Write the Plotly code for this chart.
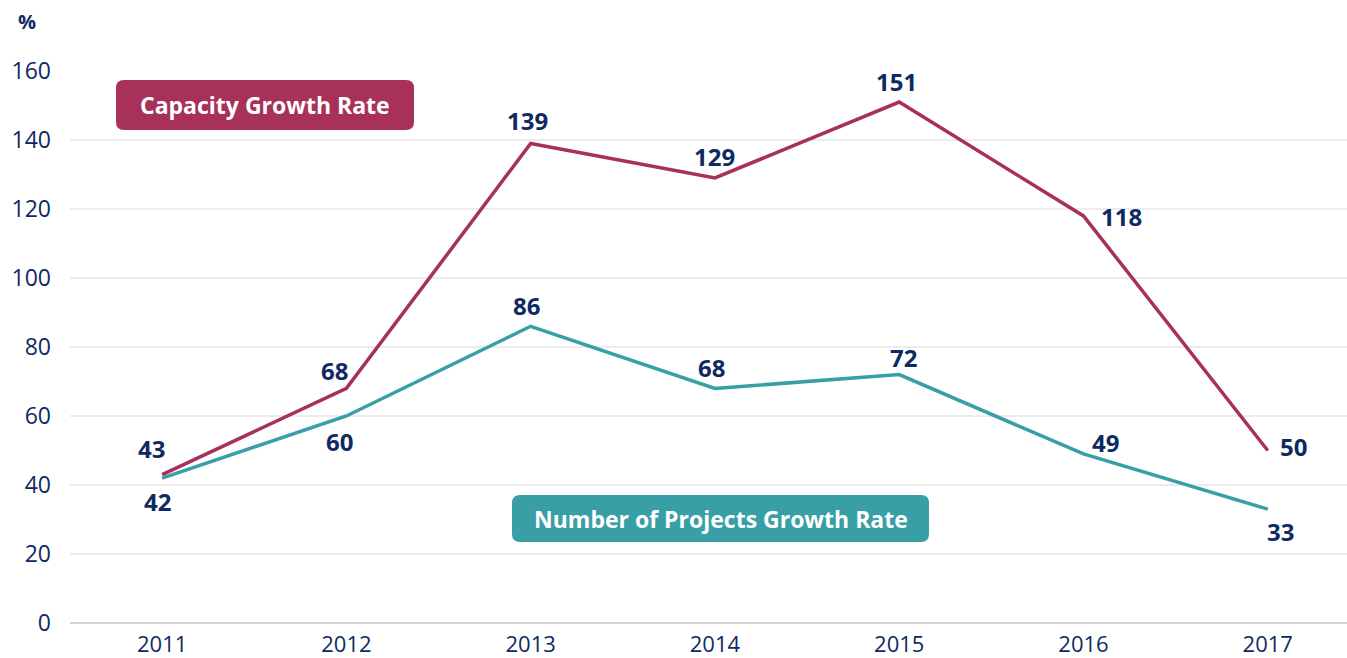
import plotly.graph_objects as go

# Data
years = ["2011", "2012", "2013", "2014", "2015", "2016", "2017"]
capacity_growth = [43, 68, 139, 129, 151, 118, 50]
projects_growth = [42, 60, 86, 68, 72, 49, 33]
y_ticks = [0, 20, 40, 60, 80, 100, 120, 140, 160]

CAP_COLOR = "#a8315a"
PRJ_COLOR = "#389fa6"
NAVY = "#0f2a63"
FONT = "Open Sans"

# value label offsets from their point, px (style only)
cap_offsets = [(-11, 26), (-12, 18), (-3, 23), (0, 21), (-3, 21), (38, -1), (26, 4)]
prj_offsets = [(-5, -23), (-7, -25), (-4, 21), (-3, 21), (4, 17), (22, 11), (13, -22)]

# numeric positions on the x axis, labelled with the years
xpos = list(range(len(years)))

fig = go.Figure()
fig.add_trace(go.Scatter(x=xpos, y=capacity_growth, mode="lines",
                         line=dict(color=CAP_COLOR, width=3.5),
                         name="Capacity Growth Rate"))
fig.add_trace(go.Scatter(x=xpos, y=projects_growth, mode="lines",
                         line=dict(color=PRJ_COLOR, width=3.5),
                         name="Number of Projects Growth Rate"))

# value labels
for vals, offs in [(capacity_growth, cap_offsets), (projects_growth, prj_offsets)]:
    for xi, v, (dx, dy) in zip(xpos, vals, offs):
        fig.add_annotation(x=xi, y=v, xref="x", yref="y", text=f"<b>{v}</b>",
                           showarrow=False, xshift=dx, yshift=dy,
                           font=dict(family=FONT, size=24, color=NAVY))

# plot area geometry (px) for rounded label boxes
L, R, T, B = 70, 0, 71, 35
W, H = 1347, 658
pw, ph = W - L - R, H - T - B


def rounded_box(px0, py0, px1, py1, r=8):
    x0, x1 = (px0 - L) / pw, (px1 - L) / pw
    y0, y1 = (H - B - py1) / ph, (H - B - py0) / ph
    rx, ry = r / pw, r / ph
    return (f"M {x0+rx},{y0} L {x1-rx},{y0} Q {x1},{y0} {x1},{y0+ry} "
            f"L {x1},{y1-ry} Q {x1},{y1} {x1-rx},{y1} "
            f"L {x0+rx},{y1} Q {x0},{y1} {x0},{y1-ry} "
            f"L {x0},{y0+ry} Q {x0},{y0} {x0+rx},{y0} Z"), (x0 + x1) / 2, (y0 + y1) / 2


for (bx0, by0, bx1, by1), color, label in [
    ((116, 80, 414, 130), CAP_COLOR, "Capacity Growth Rate"),
    ((512, 495, 929, 542), PRJ_COLOR, "Number of Projects Growth Rate"),
]:
    path, cx, cy = rounded_box(bx0, by0, bx1, by1)
    fig.add_shape(type="path", path=path, xref="paper", yref="paper",
                  fillcolor=color, line=dict(width=0), layer="above")
    fig.add_annotation(x=cx, y=cy, xref="paper", yref="paper", text=f"<b>{label}</b>",
                       showarrow=False, xanchor="center", yanchor="middle",
                       font=dict(family=FONT, size=23, color="white"))

# % unit label
fig.add_annotation(x=(27 - L) / pw, y=(H - B - 22) / ph, xref="paper", yref="paper",
                   text="<b>%</b>", showarrow=False, xanchor="center", yanchor="middle",
                   font=dict(family=FONT, size=20, color=NAVY))

fig.update_layout(
    width=W, height=H,
    margin=dict(l=L, r=R, t=T, b=B),
    plot_bgcolor="white", paper_bgcolor="white",
    showlegend=False,
    font=dict(family=FONT, color=NAVY),
    xaxis=dict(range=[-0.5, 6.43], tickvals=xpos, ticktext=years,
               showgrid=False, showline=False, zeroline=False, automargin=False,
               tickfont=dict(size=22, color=NAVY), ticklabelstandoff=6),
    yaxis=dict(range=[0, 160], tickvals=y_ticks, showgrid=True, automargin=False,
               gridcolor="#ececec", gridwidth=2,
               zeroline=True, zerolinecolor="#d6d6d6", zerolinewidth=2,
               tickfont=dict(size=23, color=NAVY), ticklabelstandoff=18),
)

# page margin off, and redraw once fonts are ready so annotation boxes measure right
post = ("document.body.style.margin='0';"
        "var gd=document.getElementById('{plot_id}');"
        "if(document.fonts){document.fonts.ready.then(function(){Plotly.redraw(gd);});}")
fig.write_html("out.html", post_script=post, config={"displayModeBar": False})
